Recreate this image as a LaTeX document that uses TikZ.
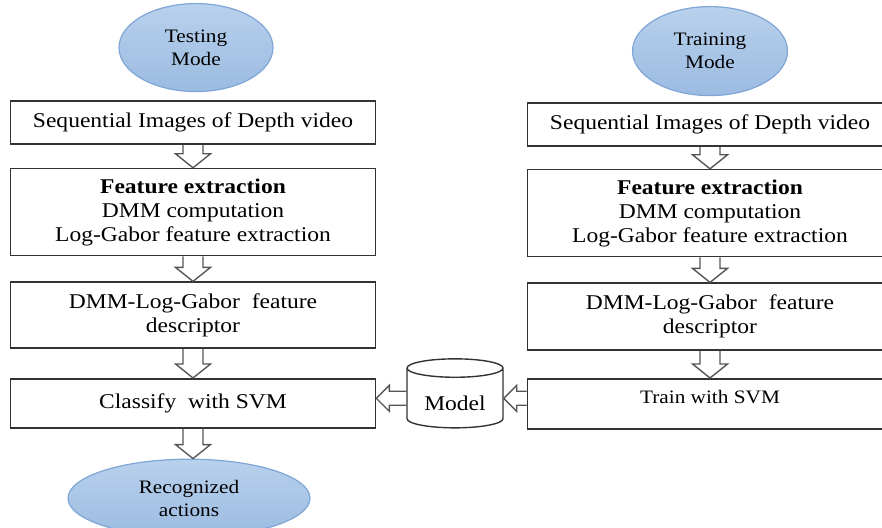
\documentclass[tikz,border=0pt]{standalone}
\usepackage{fontspec}
\setmainfont{Liberation Serif}[FakeStretch=1.12]
\usetikzlibrary{positioning, shapes.geometric, calc}

\definecolor{modetop}{HTML}{B8D1EC}
\definecolor{modebot}{HTML}{9CBBE1}
\definecolor{modeline}{HTML}{7FA6D6}
\definecolor{boxline}{HTML}{333333}
\definecolor{arrline}{HTML}{555555}

% hollow block arrow, straight down from #1 to #2
\newcommand{\downblock}[2]{%
  \draw[hollow] ($(#1.south)+(-5pt,0)$) -- ($(#1.south |- #2.north)+(-5pt,7pt)$) -- ($(#1.south |- #2.north)+(-8.75pt,7pt)$)
    -- (#1.south |- #2.north) -- ($(#1.south |- #2.north)+(8.75pt,7pt)$) -- ($(#1.south |- #2.north)+(5pt,7pt)$) -- ($(#1.south)+(5pt,0)$);}
% hollow block arrow pointing left, from point #1 to tip #2
\newcommand{\leftblock}[2]{%
  \draw[hollow] ($#1+(0,3.5pt)$) -- ($#2+(6.5pt,3.5pt)$) -- ($#2+(6.5pt,6.5pt)$)
    -- #2 -- ($#2+(6.5pt,-6.5pt)$) -- ($#2+(6.5pt,-3.5pt)$) -- ($#1+(0,-3.5pt)$);}

\begin{document}
\begin{tikzpicture}[
  proc/.style={rectangle, draw=boxline, line width=0.8pt, minimum width=182.5pt, inner sep=2pt, align=center, font=\fontsize{10.5}{12}\selectfont},
  mode/.style={ellipse, draw=modeline, line width=0.6pt, top color=modetop, bottom color=modebot, inner sep=0pt, align=center, font=\fontsize{9.5}{11.5}\selectfont},
  store/.style={cylinder, shape border rotate=90, aspect=0.3, draw=boxline, line width=0.7pt, minimum width=48pt, minimum height=34.5pt, inner sep=0pt, font=\fontsize{10.5}{12}\selectfont},
  hollow/.style={draw=arrline, line width=0.7pt}
]
\useasboundingbox (0,0) rectangle (441pt,-264pt);

% Testing side
\node[proc, minimum height=21.5pt] (testseq) at (96.5pt,-61.25pt) {Sequential Images of Depth video};
\node[mode, minimum width=77pt, minimum height=44pt, above=4pt of testseq, xshift=1.5pt] (testing) {Testing\\Mode};
\node[proc, minimum height=43.5pt, below=11.5pt of testseq] (testfeat) {\textbf{Feature extraction}\\DMM computation\\Log-Gabor feature extraction};
\node[proc, minimum height=33pt, below=12.5pt of testfeat] (testdesc) {DMM-Log-Gabor\ \ feature\\descriptor};
\node[proc, minimum height=24.5pt, below=14.5pt of testdesc] (classify) {Classify\ \ with SVM};
\node[mode, minimum width=121pt, minimum height=39pt, below=15pt of classify, xshift=-2pt] (result) {Recognized\\actions};

% Training side
\node[proc, minimum height=21.5pt] (trainseq) at (355pt,-62.25pt) {Sequential Images of Depth video};
\node[mode, minimum width=77.5pt, minimum height=44.5pt, above=3pt of trainseq] (training) {Training\\Mode};
\node[proc, minimum height=43.5pt, below=11pt of trainseq] (trainfeat) {\textbf{Feature extraction}\\DMM computation\\Log-Gabor feature extraction};
\node[proc, minimum height=33.5pt, below=12.5pt of trainfeat] (traindesc) {DMM-Log-Gabor\ \ feature\\descriptor};
\node[proc, minimum height=25pt, below=13.5pt of traindesc, font=\fontsize{9.5}{11}\selectfont] (train) {\raisebox{3.5pt}[\height][\depth]{Train with SVM}};

% Model
\node[store, right=15pt of classify, yshift=2.5pt] (model) {\raisebox{-2.5pt}[\height][\depth]{Model}};

% Arrows
\downblock{testseq}{testfeat}
\downblock{testfeat}{testdesc}
\downblock{testdesc}{classify}
\downblock{classify}{result}
\downblock{trainseq}{trainfeat}
\downblock{trainfeat}{traindesc}
\downblock{traindesc}{train}
\leftblock{(model.west)}{(classify.east |- model.west)}
\leftblock{(train.west |- model.east)}{(model.east)}

\end{tikzpicture}
\end{document}
